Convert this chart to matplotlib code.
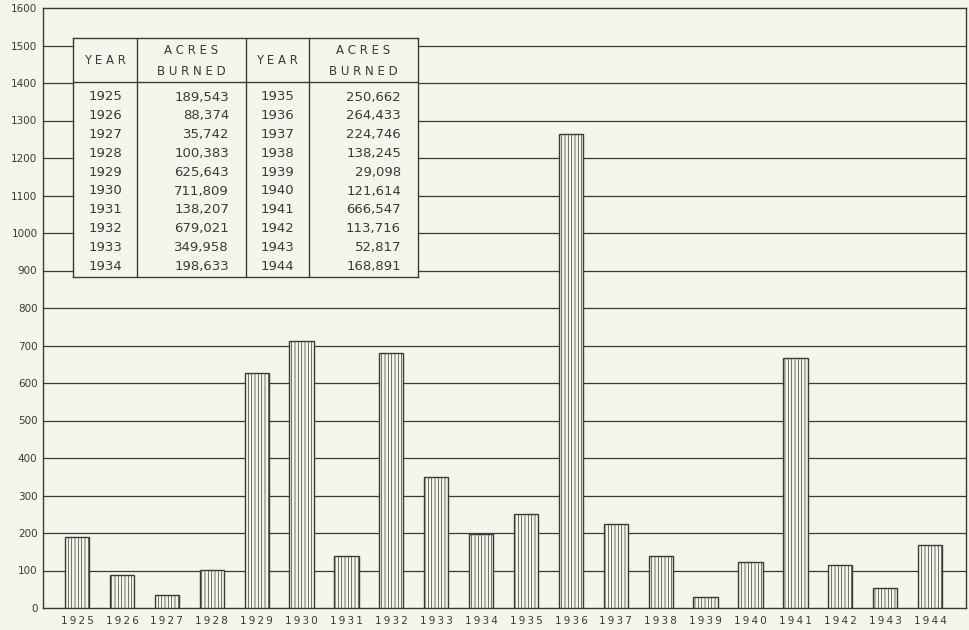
import matplotlib.pyplot as plt
import matplotlib as mpl

# --- data (thousands of acres burned) ---
years = [1925, 1926, 1927, 1928, 1929, 1930, 1931, 1932, 1933, 1934,
         1935, 1936, 1937, 1938, 1939, 1940, 1941, 1942, 1943, 1944]
acres_k = [189.543, 88.374, 35.742, 100.383, 625.643, 711.809, 138.207, 679.021, 349.958, 198.633,
           250.662, 1264.433, 224.746, 138.245, 29.098, 121.614, 666.547, 113.716, 52.817, 168.891]

# table text as printed
tbl_years_left = ["1925", "1926", "1927", "1928", "1929", "1930", "1931", "1932", "1933", "1934"]
tbl_acres_left = ["189,543", "88,374", "35,742", "100,383", "625,643",
                  "711,809", "138,207", "679,021", "349,958", "198,633"]
tbl_years_right = ["1935", "1936", "1937", "1938", "1939", "1940", "1941", "1942", "1943", "1944"]
tbl_acres_right = ["250,662", "264,433", "224,746", "138,245", "29,098",
                   "121,614", "666,547", "113,716", "52,817", "168,891"]

BG = "#f4f5ec"
INK = "#3a3a36"

mpl.rcParams["hatch.linewidth"] = 0.5
mpl.rcParams["hatch.color"] = "#555550"


def spaced(s):
    # hand-lettered look: thin space between characters
    return "\u2009".join(s)


W, H = 969, 630
fig = plt.figure(figsize=(W / 100, H / 100), dpi=100, facecolor=BG)
ax = fig.add_axes([43 / W, 1 - 608 / H, (966 - 43) / W, (608 - 8) / H], facecolor=BG)

# grid lines first, bars cover them
for v in range(100, 1600, 100):
    ax.axhline(v, color=INK, lw=0.9, zorder=1)

x = list(range(len(years)))
ax.bar(x, acres_k, width=0.54, facecolor=BG, edgecolor=INK, linewidth=1.0,
       hatch="|||||", zorder=3)

ax.set_xlim(-0.76, 19.8)
ax.set_ylim(0, 1600)
ax.set_yticks(range(0, 1700, 100))
ax.set_yticklabels([str(v) for v in range(0, 1700, 100)])
ax.set_xticks(x)
ax.set_xticklabels([spaced(str(y)) for y in years])
ax.tick_params(length=0, labelsize=7.5, colors=INK)
ax.tick_params(axis="x", pad=6)
ax.tick_params(axis="y", pad=4)
for s in ax.spines.values():
    s.set_color(INK)
    s.set_linewidth(1.0)

# --- inset table ---
tx0, tx1, ty0, ty1 = 73, 418, 38, 277
tab = fig.add_axes([tx0 / W, 1 - ty1 / H, (tx1 - tx0) / W, (ty1 - ty0) / H], facecolor=BG, zorder=5)
tab.set_xlim(tx0, tx1)
tab.set_ylim(ty1, ty0)
tab.set_xticks([])
tab.set_yticks([])
for s in tab.spines.values():
    s.set_color(INK)
    s.set_linewidth(1.0)

cols = [73, 137, 246, 309, 418]
for cx in cols[1:-1]:
    tab.axvline(cx, color=INK, lw=1.0)
tab.axhline(82, color=INK, lw=1.0)

fs = 9.5
hdr = dict(ha="center", va="center", fontsize=8.5, color=INK)
tab.text(105, 60, "Y E A R", **hdr)
tab.text(191, 61, "A C R E S\nB U R N E D", linespacing=1.8, **hdr)
tab.text(277, 60, "Y E A R", **hdr)
tab.text(363, 61, "A C R E S\nB U R N E D", linespacing=1.8, **hdr)

row_y0, row_dy = 97, 18.8
for i in range(10):
    yy = row_y0 + i * row_dy
    tab.text(105, yy, tbl_years_left[i], ha="center", va="center", fontsize=fs, color=INK)
    tab.text(229, yy, tbl_acres_left[i], ha="right", va="center", fontsize=fs, color=INK)
    tab.text(277, yy, tbl_years_right[i], ha="center", va="center", fontsize=fs, color=INK)
    tab.text(401, yy, tbl_acres_right[i], ha="right", va="center", fontsize=fs, color=INK)

fig.savefig("out.png", dpi=100, facecolor=BG)
